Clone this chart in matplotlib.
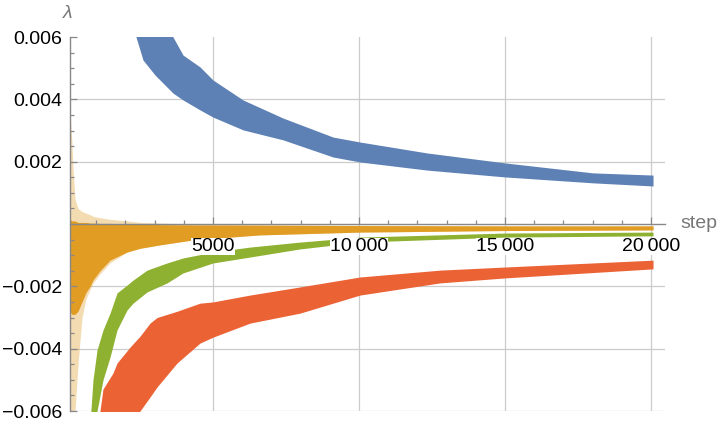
import matplotlib.pyplot as plt
from matplotlib.ticker import MultipleLocator, FixedLocator

# band edges (step, upper lambda, lower lambda)
blue_step = [2363, 2603, 3014, 3630, 3973, 4555, 5000, 6028, 7398, 9110, 10035, 12330, 15000, 18015, 20070]
blue_upper = [0.0070, 0.0068, 0.0066, 0.0060, 0.00542, 0.00504, 0.00462, 0.00398, 0.00340, 0.00279,
              0.00263, 0.00228, 0.00196, 0.00164, 0.00157]
blue_lower = [0.0060, 0.00526, 0.00478, 0.00420, 0.00398, 0.00366, 0.00343, 0.00302, 0.00270, 0.00215,
              0.00199, 0.00173, 0.00151, 0.00132, 0.00122]

orange_step = [85, 170, 205, 274, 377, 514, 650, 788, 890, 1130, 1473, 2055, 2500, 3185, 4315, 6610,
               10035, 15000, 20070]
orange_outer_upper = [0.0039, 0.0026, 0.0018, 0.0008, 0.0005, 0.0004, 0.00035, 0.0003, 0.00025, 0.0002,
                      0.00015, 0.0001, 0.00005, 0.00003, 0.0, -0.00002, -0.00004, -0.00006, -0.00006]
orange_outer_lower = [-0.0062, -0.0062, -0.0062, -0.0060, -0.0045, -0.0030, -0.0024, -0.0021, -0.0019,
                      -0.0016, -0.00125, -0.0009, -0.00078, -0.00067, -0.00051, -0.00035, -0.00026,
                      -0.00021, -0.00019]
orange_upper = [0.00015, 0.0001, 0.0001, 0.0001, 0.00005, 0.00005, 0.00005, 0.00003, 0.00003, 0.00002,
                0.00002, 0.0, 0.0, -0.00002, -0.00003, -0.00004, -0.00005, -0.00006, -0.00006]
orange_lower = [-0.0028, -0.0029, -0.0029, -0.0029, -0.0028, -0.0025, -0.0022, -0.0020, -0.0018, -0.0015,
                -0.00116, -0.0009, -0.00078, -0.00067, -0.00051, -0.00035, -0.00026, -0.00021, -0.00019]

green_step = [788, 890, 1028, 1233, 1473, 1713, 2055, 2260, 2740, 3425, 3973, 5000, 6268, 7980, 10035,
              15000, 20070]
green_upper = [-0.0064, -0.0050, -0.00404, -0.0034, -0.00286, -0.00221, -0.00196, -0.0018, -0.00148,
               -0.00125, -0.00109, -0.0009, -0.00074, -0.00058, -0.00042, -0.00029, -0.00026]
green_lower = [-0.0068, -0.0066, -0.0060, -0.0050, -0.00427, -0.0034, -0.00276, -0.00254, -0.00218,
               -0.00189, -0.00157, -0.00125, -0.00106, -0.00080, -0.00058, -0.00042, -0.00038]

red_step = [1100, 1230, 1575, 1713, 2158, 2500, 2843, 3083, 3768, 4555, 5000, 6268, 7980, 10035, 12775,
            15000, 20070]
red_upper = [-0.0062, -0.0053, -0.00478, -0.00446, -0.00395, -0.0036, -0.00318, -0.0030, -0.0028,
             -0.00254, -0.0025, -0.00228, -0.00202, -0.0017, -0.00148, -0.00138, -0.00116]
red_lower = [-0.0090, -0.0085, -0.0078, -0.0075, -0.0066, -0.0060, -0.00555, -0.00523, -0.00446,
             -0.00382, -0.00363, -0.00318, -0.00286, -0.00228, -0.00189, -0.00173, -0.00144]

x_ticks = [5000, 10000, 15000, 20000]
x_tick_labels = ["5000", "10\u2009000", "15\u2009000", "20\u2009000"]
y_ticks = [-0.006, -0.004, -0.002, 0.002, 0.004, 0.006]
y_tick_labels = ["\u22120.006", "\u22120.004", "\u22120.002", "0.002", "0.004", "0.006"]
y_grid = [-0.006, -0.004, -0.002, 0.002, 0.004]


def main():
    plt.rcParams['font.family'] = ['Liberation Sans', 'DejaVu Sans']

    fig = plt.figure(figsize=(7.2, 4.28), dpi=100)
    ax = fig.add_axes([69.5 / 720, 17 / 428, (665 - 69.5) / 720, 374 / 428])

    blue, orange, green, red = "#5E81B5", "#E19C24", "#8FB131", "#EB6235"

    ax.fill_between(blue_step, blue_lower, blue_upper, color=blue, lw=0, zorder=2)
    ax.fill_between(orange_step, orange_outer_lower, orange_outer_upper, color=orange, alpha=0.35,
                    lw=0, zorder=2)
    ax.fill_between(orange_step, orange_lower, orange_upper, color=orange, lw=0, zorder=2)
    ax.fill_between(green_step, green_lower, green_upper, color=green, lw=0, zorder=2)
    ax.fill_between(red_step, red_lower, red_upper, color=red, lw=0, zorder=2)

    ax.set_xlim(85, 20480)
    ax.set_ylim(-0.006, 0.006)

    # grid
    for x in x_ticks:
        ax.axvline(x, color="#cccccc", lw=0.9, zorder=1)
    for y in y_grid:
        ax.axhline(y, color="#cccccc", lw=0.9, zorder=1)

    # axes like Mathematica: x axis through zero
    ax.spines['top'].set_visible(False)
    ax.spines['right'].set_visible(False)
    ax.spines['bottom'].set_position(('data', 0))
    for s in ('left', 'bottom'):
        ax.spines[s].set_color("#888888")
        ax.spines[s].set_linewidth(1.0)
        ax.spines[s].set_zorder(3)

    ax.xaxis.set_major_locator(FixedLocator(x_ticks))
    ax.set_xticklabels(x_tick_labels)
    ax.xaxis.set_minor_locator(MultipleLocator(1000))
    ax.yaxis.set_major_locator(FixedLocator(y_ticks))
    ax.set_yticklabels(y_tick_labels)
    ax.yaxis.set_minor_locator(MultipleLocator(0.0005))

    ax.tick_params(axis='x', which='major', direction='in', length=5, width=0.9, color="#888888",
                   labelsize=14, labelcolor="black", pad=10)
    ax.tick_params(axis='x', which='minor', direction='in', length=3, width=0.9, color="#888888")
    ax.tick_params(axis='y', which='major', direction='in', length=5, width=0.9, color="#888888",
                   labelsize=14, labelcolor="black", pad=5)
    ax.tick_params(axis='y', which='minor', direction='in', length=3, width=0.9, color="#888888")
    for lab in ax.get_xticklabels():
        lab.set_bbox(dict(facecolor='white', edgecolor='none', pad=0.0))
    ax.xaxis.set_zorder(5)
    ax.yaxis.set_zorder(5)

    fig.text(68 / 720, 1 - 13 / 428, "\u03bb", color="#777777", fontsize=14, ha='center', va='center',
             style='italic')
    fig.text(680 / 720, 1 - 224 / 428, "step", color="#777777", fontsize=14, ha='left', va='center')

    fig.savefig("out.png", dpi=100)


if __name__ == '__main__':
    main()
